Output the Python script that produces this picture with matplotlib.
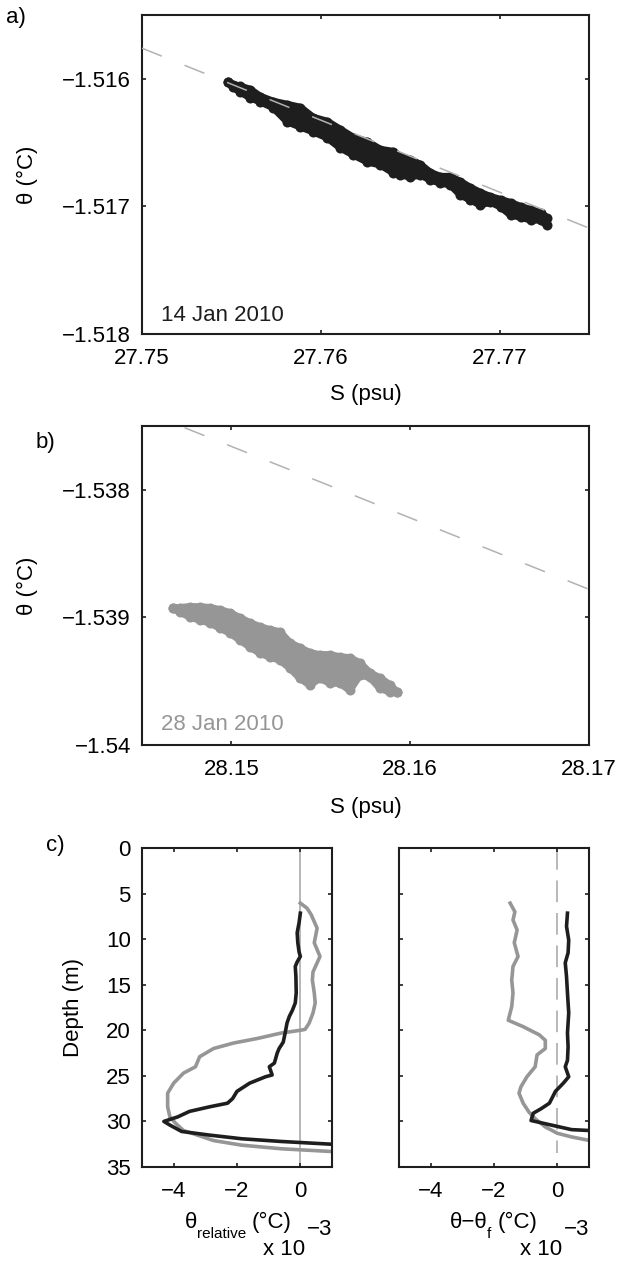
import matplotlib
matplotlib.use("Agg")
import matplotlib.pyplot as plt

plt.rcParams['font.family'] = ['Liberation Sans', 'DejaVu Sans']
plt.rcParams['font.size'] = 16

BLACK = '#1e1e1e'
GREY = '#969696'
LIGHT = '#b2b2b2'

# ---- panel a: 14 Jan 2010, envelope of the dot cloud (S, upper/lower theta)
s_a = [27.75482, 27.75510, 27.75549, 27.75605, 27.75661, 27.75734, 27.75812,
       27.75885, 27.75958, 27.76036, 27.76109, 27.76182, 27.76260, 27.76333,
       27.76406, 27.76445, 27.76501, 27.76557, 27.76613, 27.76669, 27.76725,
       27.76781, 27.76837, 27.76893, 27.76949, 27.77006, 27.77062, 27.77118,
       27.77174, 27.77230, 27.77263]
th_a_top = [-1.516025, -1.516045, -1.516060, -1.516084, -1.516139, -1.516178,
            -1.516202, -1.516225, -1.516304, -1.516335, -1.516398, -1.516461,
            -1.516493, -1.516555, -1.516571, -1.516610, -1.516634, -1.516673,
            -1.516736, -1.516767, -1.516767, -1.516807, -1.516854, -1.516893,
            -1.516925, -1.516948, -1.516972, -1.517003, -1.517027, -1.517050,
            -1.517089]
th_a_bot = [-1.516025, -1.516068, -1.516100, -1.516147, -1.516178, -1.516225,
            -1.516335, -1.516375, -1.516414, -1.516461, -1.516540, -1.516595,
            -1.516650, -1.516673, -1.516736, -1.516752, -1.516767, -1.516752,
            -1.516791, -1.516815, -1.516830, -1.516909, -1.516948, -1.516987,
            -1.516964, -1.517003, -1.517066, -1.517082, -1.517105, -1.517105,
            -1.517144]
line_a_s = [27.75, 27.775]
line_a_th = [-1.51576, -1.51717]

# ---- panel b: 28 Jan 2010
s_b = [28.14673, 28.14712, 28.14768, 28.14824, 28.14880, 28.14936, 28.14992,
       28.15048, 28.15103, 28.15159, 28.15215, 28.15271, 28.15327, 28.15383,
       28.15439, 28.15494, 28.15550, 28.15606, 28.15662, 28.15718, 28.15774,
       28.15830, 28.15886, 28.15925]
th_b_top = [-1.538929, -1.538925, -1.538918, -1.538918, -1.538925, -1.538941,
            -1.538965, -1.539004, -1.539043, -1.539074, -1.539098, -1.539114,
            -1.539200, -1.539239, -1.539278, -1.539294, -1.539294, -1.539310,
            -1.539318, -1.539357, -1.539435, -1.539475, -1.539529, -1.539584]
th_b_bot = [-1.538929, -1.538957, -1.538996, -1.539020, -1.539043, -1.539082,
            -1.539122, -1.539176, -1.539231, -1.539278, -1.539310, -1.539333,
            -1.539396, -1.539475, -1.539529, -1.539475, -1.539514, -1.539514,
            -1.539569, -1.539451, -1.539467, -1.539553, -1.539584, -1.539584]
line_b_s = [28.145, 28.17]
line_b_th = [-1.53738, -1.53878]

# ---- panel c: profiles (x10^-3 degC) vs depth (m)
rel_blk = [0.0, -0.04, -0.10, -0.08, -0.04, 0.0, -0.10, -0.16, -0.14, -0.13,
           -0.16, -0.25, -0.35, -0.42, -0.48, -0.54, -0.67, -0.73, -0.82, -0.98,
           -0.89, -1.10, -1.60, -2.00, -2.14, -2.30, -2.87, -3.50, -3.87, -4.31,
           -4.12, -3.75, -2.87, -1.86, -0.60, 0.98]
dep_rel_blk = [7.15, 8.2, 9.3, 10.4, 11.4, 11.9, 12.5, 13.0, 14.1, 15.9,
               17.0, 17.8, 18.5, 19.2, 20.3, 21.3, 22.0, 22.5, 23.6, 24.0,
               24.9, 25.1, 25.8, 26.7, 27.5, 28.0, 28.4, 28.9, 29.5, 30.0,
               30.4, 31.1, 31.5, 31.9, 32.2, 32.5]
rel_gry = [0.0, 0.21, 0.34, 0.53, 0.44, 0.62, 0.53, 0.40, 0.38, 0.44, 0.47,
           0.40, 0.28, 0.15, 0.0, -0.60, -1.36, -2.11, -2.74, -3.18, -3.31,
           -3.69, -4.00, -4.19, -4.19, -4.12, -3.94, -3.69, -3.25, -2.74,
           -1.86, -0.60, 0.98]
dep_rel_gry = [6.05, 6.6, 7.3, 8.8, 10.4, 11.9, 12.6, 13.6, 14.5, 15.9, 17.0,
               18.1, 19.2, 19.9, 20.0, 20.3, 20.9, 21.4, 22.0, 22.9, 24.0,
               24.7, 25.8, 26.9, 28.4, 29.5, 30.2, 31.0, 31.5, 32.1, 32.6,
               33.0, 33.3]
frz_blk = [0.32, 0.29, 0.36, 0.34, 0.25, 0.29, 0.32, 0.36, 0.32, 0.34, 0.32,
           0.25, 0.36, 0.19, -0.06, -0.25, -0.51, -0.76, -0.83, -0.70, -0.19,
           0.45, 1.03]
dep_frz_blk = [7.15, 8.6, 10.1, 11.5, 12.6, 14.1, 15.9, 18.1, 20.3, 21.8,
               23.3, 24.0, 25.1, 25.8, 26.7, 28.0, 28.6, 29.1, 29.9, 30.0,
               30.4, 30.9, 31.0]
frz_gry = [-1.49, -1.34, -1.40, -1.27, -1.36, -1.24, -1.40, -1.44, -1.40,
           -1.44, -1.55, -1.08, -0.57, -0.38, -0.38, -0.64, -0.70, -0.96,
           -1.15, -1.21, -1.08, -0.89, -0.70, -0.38, 0.0, 0.45, 1.03]
dep_frz_gry = [6.05, 7.0, 7.9, 9.0, 10.4, 11.9, 13.0, 14.5, 15.9, 17.4, 18.9,
               19.6, 20.5, 21.1, 22.0, 22.7, 24.0, 25.1, 26.2, 26.9, 28.0,
               29.0, 29.7, 30.6, 31.3, 31.7, 32.1]


def style_axes(ax):
    for sp in ax.spines.values():
        sp.set_linewidth(1.5)
        sp.set_color(BLACK)
    ax.tick_params(direction='in', length=3, width=1.2, top=True, right=True,
                   labelsize=16, color=BLACK)
    ax.tick_params(axis='x', pad=10)
    ax.tick_params(axis='y', pad=8)


def cloud(ax, s, top, bot, color):
    # dense dot cloud: outlined envelope plus the dots along its edges
    xs = list(s) + list(s)[::-1]
    ys = list(top) + list(bot)[::-1]
    ax.fill(xs, ys, facecolor=color, edgecolor=color, lw=5.5,
            joinstyle='round', zorder=2)
    ax.scatter(s, top, s=52, color=color, lw=0, zorder=2)
    ax.scatter(s, bot, s=52, color=color, lw=0, zorder=2)


fig = plt.figure(figsize=(6.3, 12.62), dpi=100)

# a)
ax1 = fig.add_axes([0.2254, 0.73534, 0.7095, 0.25277])
cloud(ax1, s_a, th_a_top, th_a_bot, BLACK)
ax1.plot(line_a_s, line_a_th, color=LIGHT, lw=1.1, dashes=(14, 16), zorder=3)
ax1.set_xlim(27.75, 27.775)
ax1.set_ylim(-1.518, -1.5155)
ax1.set_xticks([27.75, 27.76, 27.77])
ax1.set_xticklabels(['27.75', '27.76', '27.77'])
ax1.set_yticks([-1.518, -1.517, -1.516])
ax1.set_yticklabels(['\u22121.518', '\u22121.517', '\u22121.516'])
ax1.set_xlabel('S (psu)')
ax1.set_ylabel('\u03b8 (\u00b0C)')
ax1.xaxis.set_label_coords(0.5, -0.157)
ax1.yaxis.set_label_coords(-0.233, 0.5)
ax1.text(0.0425, 0.041, '14 Jan 2010', transform=ax1.transAxes, color=BLACK,
         fontsize=16, va='baseline')
style_axes(ax1)

# b)
ax2 = fig.add_axes([0.2254, 0.40967, 0.7095, 0.25277])
cloud(ax2, s_b, th_b_top, th_b_bot, GREY)
ax2.plot(line_b_s, line_b_th, color=LIGHT, lw=1.1, dashes=(14, 16), zorder=3)
ax2.set_xlim(28.145, 28.17)
ax2.set_ylim(-1.54, -1.5375)
ax2.set_xticks([28.15, 28.16, 28.17])
ax2.set_xticklabels(['28.15', '28.16', '28.17'])
ax2.set_yticks([-1.54, -1.539, -1.538])
ax2.set_yticklabels(['\u22121.54', '\u22121.539', '\u22121.538'])
ax2.set_xlabel('S (psu)')
ax2.set_ylabel('\u03b8 (\u00b0C)')
ax2.xaxis.set_label_coords(0.5, -0.163)
ax2.yaxis.set_label_coords(-0.233, 0.5)
ax2.text(0.0425, 0.047, '28 Jan 2010', transform=ax2.transAxes, color=GREY,
         fontsize=16, va='baseline')
style_axes(ax2)

# c)
ax3 = fig.add_axes([0.2254, 0.07528, 0.30159, 0.25277])
ax4 = fig.add_axes([0.63333, 0.07528, 0.30159, 0.25277])

ax3.axvline(0, color=LIGHT, lw=1.3, zorder=1)
ax3.plot(rel_blk, dep_rel_blk, color=BLACK, lw=2.6, zorder=3)
ax3.plot(rel_gry, dep_rel_gry, color=GREY, lw=2.6, zorder=2)

ax4.plot([0, 0], [0, 33.5], color=LIGHT, lw=1.3, dashes=(12, 6), zorder=1)
ax4.plot(frz_blk, dep_frz_blk, color=BLACK, lw=2.6, zorder=3)
ax4.plot(frz_gry, dep_frz_gry, color=GREY, lw=2.6, zorder=2)

for ax in (ax3, ax4):
    ax.set_xlim(-5, 1)
    ax.set_ylim(35, 0)
    ax.set_xticks([-4, -2, 0])
    ax.set_xticklabels(['\u22124', '\u22122', '0'])
    ax.set_yticks(range(0, 36, 5))
    style_axes(ax)
    ax.text(0.858, -0.26, 'x 10', transform=ax.transAxes, ha='right',
            va='center', fontsize=16)
    ax.text(1.0, -0.1975, '\u22123', transform=ax.transAxes, ha='right',
            va='center', fontsize=16)

ax3.set_ylabel('Depth (m)')
ax3.yaxis.set_label_coords(-0.305, 0.5)
ax4.set_yticklabels([])

# x labels with low-set subscripts
ax3.text(0.226, -0.191, '\u03b8', transform=ax3.transAxes, va='baseline')
ax3.text(0.289, -0.2226, 'relative', transform=ax3.transAxes, va='baseline',
         fontsize=11)
ax3.text(0.579, -0.191, '(\u00b0C)', transform=ax3.transAxes, va='baseline')
ax4.text(0.268, -0.191, '\u03b8\u2212\u03b8', transform=ax4.transAxes,
         va='baseline')
ax4.text(0.463, -0.2226, 'f', transform=ax4.transAxes, va='baseline',
         fontsize=11)
ax4.text(0.521, -0.191, '(\u00b0C)', transform=ax4.transAxes, va='baseline')

fig.text(6 / 630, 1 - 7 / 1262, 'a)', fontsize=16, va='top', ha='left')
fig.text(36 / 630, 1 - 432 / 1262, 'b)', fontsize=16, va='top', ha='left')
fig.text(46 / 630, 1 - 835 / 1262, 'c)', fontsize=16, va='top', ha='left')

fig.savefig('out.png', dpi=100)
